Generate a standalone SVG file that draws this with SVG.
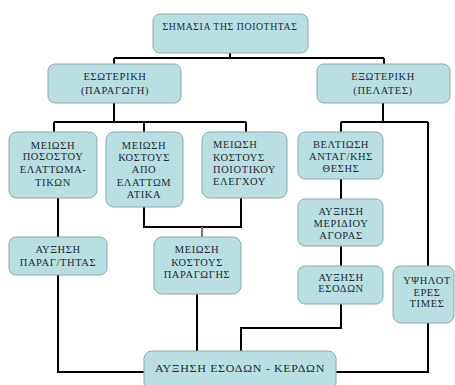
<svg xmlns="http://www.w3.org/2000/svg" width="455" height="385" viewBox="0 0 455 385">
<style>
.box{fill:#b9dfe3;stroke:#8aa9ad;stroke-width:1}
.t{font-family:"Liberation Serif","Times New Roman",serif;font-size:10.5px;letter-spacing:0.6px;fill:#1f2833;text-anchor:middle}
.l{text-anchor:start}
.c{fill:none;stroke:#000;stroke-width:2}
.g{fill:none;stroke:#777;stroke-width:2}
</style>
<rect width="455" height="385" fill="#fff"/>
<g id="connectors">
<path class="c" d="M230 53V58M114 58H384M114 58V64M384 58V64"/>
<path class="c" d="M114 103V122M54 122H246M54 122V132M144 122V132M246 122V132"/>
<path class="c" d="M383 103V122M341 122H428M341 122V132M428 122V266"/>
<path class="c" d="M58 198V237M58 275V372H144"/>
<path class="c" d="M144 207V227H241V198"/>
<path class="g" d="M202 227V237"/>
<path class="c" d="M197 294V351"/>
<path class="c" d="M341 179V199M341 246V266M341 304V328H241V351"/>
<path class="c" d="M428 323V372H336"/>
</g>
<g id="n-top"><rect class="box" x="153" y="14" width="155" height="39" rx="7"/><text class="t" x="230" y="30" textLength="135" lengthAdjust="spacingAndGlyphs">ΣΗΜΑΣΙΑ ΤΗΣ ΠΟΙΟΤΗΤΑΣ</text></g>
<g id="n-int"><rect class="box" x="48" y="64" width="133" height="39" rx="7"/><text class="t" x="115" y="80">ΕΣΩΤΕΡΙΚΗ</text><text class="t" x="115" y="94">(ΠΑΡΑΓΩΓΗ)</text></g>
<g id="n-ext"><rect class="box" x="317" y="64" width="133" height="39" rx="7"/><text class="t" x="383" y="80">ΕΞΩΤΕΡΙΚΗ</text><text class="t" x="383" y="94">(ΠΕΛΑΤΕΣ)</text></g>
<g id="n-a"><rect class="box" x="9" y="132" width="88" height="66" rx="8"/><text class="t" x="53" y="148.5">ΜΕΙΩΣΗ</text><text class="t" x="53" y="160">ΠΟΣΟΣΤΟΥ</text><text class="t" x="53" y="172.5">ΕΛΑΤΤΩΜΑ-</text><text class="t" x="53" y="185.5">ΤΙΚΩΝ</text></g>
<g id="n-b"><rect class="box" x="106" y="132" width="77" height="75" rx="8"/><text class="t" x="144" y="148.5">ΜΕΙΩΣΗ</text><text class="t" x="144" y="160.5">ΚΟΣΤΟΥΣ</text><text class="t" x="144" y="172.5">ΑΠΟ</text><text class="t" x="144" y="185.5">ΕΛΑΤΤΩΜ</text><text class="t" x="144" y="197.5">ΑΤΙΚΑ</text></g>
<g id="n-c"><rect class="box" x="202" y="132" width="85" height="66" rx="8"/><text class="t l" x="213" y="148">ΜΕΙΩΣΗ</text><text class="t l" x="213" y="160.5">ΚΟΣΤΟΥΣ</text><text class="t l" x="213" y="172.5">ΠΟΙΟΤΙΚΟΥ</text><text class="t l" x="213" y="184.5">ΕΛΕΓΧΟΥ</text></g>
<g id="n-d"><rect class="box" x="298" y="132" width="85" height="47" rx="7"/><text class="t" x="341" y="147.5">ΒΕΛΤΙΩΣΗ</text><text class="t" x="341" y="159.5">ΑΝΤΑΓ/ΚΗΣ</text><text class="t" x="341" y="171.5">ΘΕΣΗΣ</text></g>
<g id="n-e"><rect class="box" x="298" y="199" width="85" height="47" rx="7"/><text class="t" x="341" y="214.5">ΑΥΞΗΣΗ</text><text class="t" x="341" y="226.5">ΜΕΡΙΔΙΟΥ</text><text class="t" x="341" y="238.5">ΑΓΟΡΑΣ</text></g>
<g id="n-f"><rect class="box" x="9" y="237" width="98" height="38" rx="7"/><text class="t" x="58" y="252.5">ΑΥΞΗΣΗ</text><text class="t" x="58" y="265.5">ΠΑΡΑΓ/ΤΗΤΑΣ</text></g>
<g id="n-g"><rect class="box" x="154" y="237" width="87" height="57" rx="8"/><text class="t" x="197" y="252.5">ΜΕΙΩΣΗ</text><text class="t" x="197" y="265.5">ΚΟΣΤΟΥΣ</text><text class="t" x="197" y="277.5">ΠΑΡΑΓΩΓΗΣ</text></g>
<g id="n-h"><rect class="box" x="298" y="266" width="85" height="38" rx="7"/><text class="t" x="341" y="280.5">ΑΥΞΗΣΗ</text><text class="t" x="341" y="291.5">ΕΣΟΔΩΝ</text></g>
<g id="n-i"><rect class="box" x="393" y="266" width="61" height="57" rx="8"/><text class="t" x="427" y="283.5">ΥΨΗΛΟΤ</text><text class="t" x="427" y="295.5">ΕΡΕΣ</text><text class="t" x="427" y="306.5">ΤΙΜΕΣ</text></g>
<g id="n-bottom"><rect class="box" x="144" y="351" width="192" height="40" rx="8"/><text class="t" x="240" y="372" font-size="12.5" textLength="170" lengthAdjust="spacingAndGlyphs">ΑΥΞΗΣΗ ΕΣΟΔΩΝ - ΚΕΡΔΩΝ</text></g>
</svg>
